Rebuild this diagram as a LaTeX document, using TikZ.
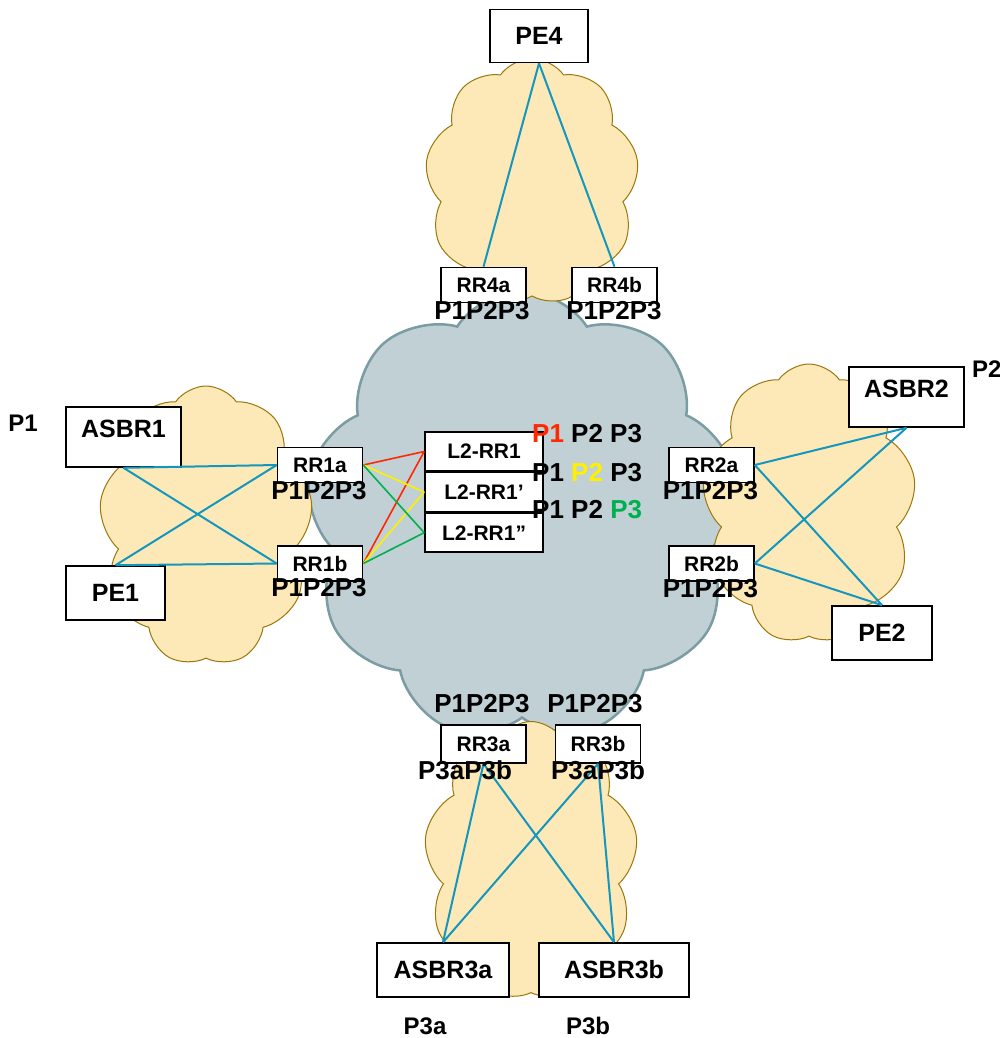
\documentclass[tikz,border=0pt]{standalone}
\usepackage{fontspec}
\setmainfont{Liberation Sans}
\usetikzlibrary{shapes.symbols, positioning}

\definecolor{coreFill}{RGB}{192,208,212}
\definecolor{coreLine}{RGB}{122,156,162}
\definecolor{siteFill}{RGB}{253,233,183}
\definecolor{siteLine}{RGB}{155,118,10}
\definecolor{link}{RGB}{20,150,190}
\definecolor{pRed}{RGB}{255,40,0}
\definecolor{pYel}{RGB}{255,240,0}
\definecolor{pGrn}{RGB}{0,176,80}

\begin{document}
\begin{tikzpicture}[x=1pt, y=-1pt,
    core/.style={cloud, cloud puffs=9, cloud puff arc=115, cloud ignores aspect,
        draw=coreLine, line width=2.5pt, fill=coreFill, inner sep=0pt},
    site/.style={cloud, cloud puffs=9, cloud puff arc=110, cloud ignores aspect,
        draw=siteLine, line width=1pt, fill=siteFill, inner sep=0pt},
    rr/.style={draw, fill=white, line width=1.6pt, minimum width=85pt, minimum height=35pt,
        inner sep=0pt, font=\fontsize{21}{24}\selectfont\bfseries},
    big/.style={draw, fill=white, line width=1.6pt, inner sep=0pt,
        font=\fontsize{25}{28}\selectfont\bfseries},
    tag/.style={inner sep=0pt, font=\fontsize{26}{28}\selectfont\bfseries},
    lnk/.style={link, line width=2pt},
]
    \useasboundingbox (0,0) rectangle (999,1038);

    % clouds
    \node[core, minimum width=432pt, minimum height=450pt] (core) at (522,516) {};
    \node[site, minimum width=214pt, minimum height=247pt] (site4) at (532,182) {};
    \node[site, minimum width=214pt, minimum height=280pt] (site1) at (206,526) {};
    \node[site, minimum width=214pt, minimum height=280pt] (site2) at (809,504) {};
    \node[site, minimum width=214pt, minimum height=279pt] (site3) at (531,861) {};

    % top
    \node[big, minimum width=98pt, minimum height=53pt] (pe4) at (539,36) {PE4};
    \node[rr] (rr4a) at (483.5,285) {RR4a};
    \node[rr] (rr4b) at (614.5,285) {RR4b};

    % left
    \node[big, minimum width=115pt, minimum height=60pt, text height=20pt, text depth=20pt] (asbr1) at (123.5,437) {ASBR1};
    \node[big, minimum width=99pt, minimum height=54pt] (pe1) at (115.5,593) {PE1};
    \node[rr] (rr1a) at (320,465) {RR1a};
    \node[rr] (rr1b) at (320,563.5) {RR1b};

    % L2 reflectors
    \node[rr, minimum width=118pt, minimum height=39pt] (l2a) at (484,451.5) {L2-RR1};
    \node[rr, minimum width=118pt, minimum height=39pt, below=0pt of l2a] (l2b) {L2-RR1’};
    \node[rr, minimum width=118pt, minimum height=39pt, below=0pt of l2b] (l2c) {L2-RR1”};

    % right
    \node[big, minimum width=115pt, minimum height=60pt, text height=20pt, text depth=20pt] (asbr2) at (906.5,397) {ASBR2};
    \node[big, minimum width=100pt, minimum height=54pt] (pe2) at (882,633) {PE2};
    \node[rr] (rr2a) at (711.5,465) {RR2a};
    \node[rr] (rr2b) at (711.5,563.5) {RR2b};

    % bottom
    \node[rr, minimum height=38pt] (rr3a) at (483.5,744) {RR3a};
    \node[rr, minimum height=38pt] (rr3b) at (598,744) {RR3b};
    \node[big, minimum width=132pt, minimum height=54pt] (asbr3a) at (443,970) {ASBR3a};
    \node[big, minimum width=150pt, minimum height=54pt] (asbr3b) at (614,970) {ASBR3b};

    % sessions
    \draw[lnk] (pe4.south) -- (rr4a.north);
    \draw[lnk] (pe4.south) -- (rr4b.north);
    \foreach \a in {asbr1.south, pe1.north} {
        \foreach \b in {rr1a.west, rr1b.west} {
            \draw[lnk] (\a) -- (\b);
        }
    }
    \foreach \a in {asbr2.south, pe2.north} {
        \foreach \b in {rr2a.east, rr2b.east} {
            \draw[lnk] (\a) -- (\b);
        }
    }
    \foreach \a in {rr3a.south, rr3b.south} {
        \foreach \b in {asbr3a.north, asbr3b.north} {
            \draw[lnk] (\a) -- (\b);
        }
    }
    \foreach \l/\c in {l2a/pRed, l2b/pYel, l2c/pGrn} {
        \draw[\c, line width=1.6pt] (rr1a.east) -- (\l.west);
        \draw[\c, line width=1.6pt] (rr1b.east) -- (\l.west);
    }

    % plane labels
    \node[tag] (t4a) at (482,311) {P1P2P3};
    \node[tag] (t4b) at (614,311) {P1P2P3};
    \node[tag] (t1a) at (319,490.5) {P1P2P3};
    \node[tag] (t1b) at (319,588) {P1P2P3};
    \node[tag] (t2a) at (710.5,491) {P1P2P3};
    \node[tag] (t2b) at (710.5,589) {P1P2P3};
    \node[tag] (t3a) at (482,704) {P1P2P3};
    \node[tag] (t3b) at (595,704) {P1P2P3};
    \node[tag] (s3a) at (465,770) {P3aP3b};
    \node[tag] (s3b) at (598,770) {P3aP3b};

    \node[tag, anchor=west] (plane1) at (532,434) {\textcolor{pRed}{P1} P2 P3};
    \node[tag, anchor=west] (plane2) at (532,473) {P1 \textcolor{pYel}{P2} P3};
    \node[tag, anchor=west] (plane3) at (532,510) {P1 P2 \textcolor{pGrn}{P3}};

    \node[tag, font=\fontsize{24}{26}\selectfont\bfseries] (as1) at (23,423) {P1};
    \node[tag, font=\fontsize{24}{26}\selectfont\bfseries, anchor=west] (as2) at (972,369) {P2};
    \node[tag, font=\fontsize{24}{26}\selectfont\bfseries] (as3a) at (425,1026) {P3a};
    \node[tag, font=\fontsize{24}{26}\selectfont\bfseries] (as3b) at (588,1026) {P3b};
\end{tikzpicture}
\end{document}
